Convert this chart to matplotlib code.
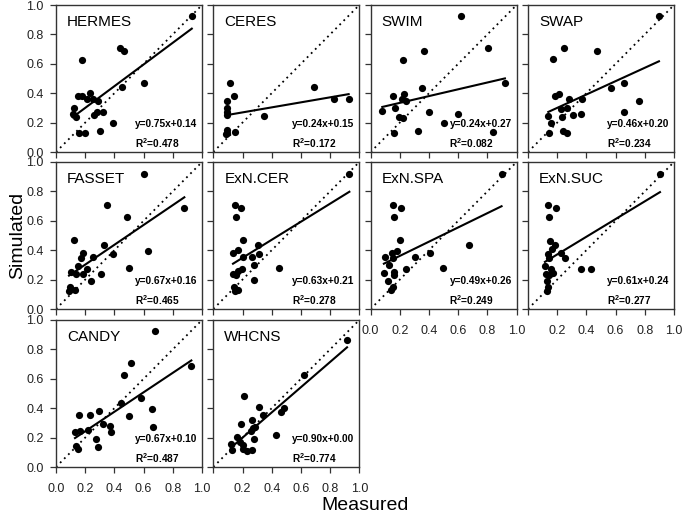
import numpy as np
import matplotlib
matplotlib.use('Agg')
import matplotlib.pyplot as plt

plt.rcParams['font.family'] = ['Liberation Sans', 'DejaVu Sans']
plt.rcParams['mathtext.fontset'] = 'custom'
plt.rcParams['mathtext.rm'] = 'Liberation Sans'
plt.rcParams['mathtext.bf'] = 'Liberation Sans:bold'

# models, in panel order
names = ['HERMES', 'CERES', 'SWIM', 'SWAP', 'FASSET',
         'ExN.CER', 'ExN.SPA', 'ExN.SUC', 'CANDY', 'WHCNS']
eq_text = ['y=0.75x+0.14', 'y=0.24x+0.15', 'y=0.24x+0.27', 'y=0.46x+0.20',
           'y=0.67x+0.16', 'y=0.63x+0.21', 'y=0.49x+0.26', 'y=0.61x+0.24',
           'y=0.67x+0.10', 'y=0.90x+0.00']
r2_text = ['0.478', '0.172', '0.082', '0.234', '0.465',
           '0.278', '0.249', '0.277', '0.487', '0.774']
tick_vals = [0.0, 0.2, 0.4, 0.6, 0.8, 1.0]

hermes_x = [0.93, 0.44, 0.465, 0.18, 0.60, 0.45, 0.153, 0.18, 0.233, 0.21, 0.25, 0.29,
            0.123, 0.114, 0.14, 0.26, 0.28, 0.32, 0.39, 0.16, 0.20, 0.30]
hermes_y = [0.925, 0.705, 0.69, 0.625, 0.467, 0.44, 0.38, 0.38, 0.40, 0.36, 0.36, 0.35,
            0.30, 0.26, 0.236, 0.25, 0.274, 0.274, 0.20, 0.13, 0.13, 0.14]

ceres_x = [0.112, 0.144, 0.094, 0.094, 0.094, 0.094, 0.687, 0.824, 0.927, 0.35,
           0.094, 0.094, 0.146, 0.09]
ceres_y = [0.467, 0.38, 0.35, 0.297, 0.274, 0.25, 0.44, 0.358, 0.358, 0.245,
           0.15, 0.127, 0.134, 0.12]

swim_x = [0.616, 0.806, 0.368, 0.219, 0.92, 0.354, 0.228, 0.15, 0.212, 0.242, 0.08,
          0.167, 0.40, 0.194, 0.224, 0.60, 0.505, 0.327, 0.162, 0.84]
swim_y = [0.925, 0.71, 0.69, 0.625, 0.47, 0.437, 0.392, 0.38, 0.358, 0.35, 0.279,
          0.297, 0.272, 0.24, 0.233, 0.256, 0.195, 0.145, 0.131, 0.134]

swap_x = [0.897, 0.249, 0.47, 0.169, 0.658, 0.568, 0.185, 0.214, 0.283, 0.368, 0.762,
          0.226, 0.265, 0.658, 0.139, 0.23, 0.306, 0.361, 0.155, 0.146, 0.242, 0.265]
swap_y = [0.925, 0.705, 0.69, 0.63, 0.47, 0.437, 0.383, 0.395, 0.358, 0.358, 0.35,
          0.29, 0.297, 0.274, 0.245, 0.24, 0.25, 0.256, 0.20, 0.131, 0.143, 0.131]

fasset_x = [0.605, 0.879, 0.347, 0.488, 0.123, 0.331, 0.632, 0.393, 0.183, 0.169, 0.256,
            0.153, 0.21, 0.502, 0.10, 0.137, 0.187, 0.306, 0.24, 0.096, 0.13, 0.089]
fasset_y = [0.92, 0.687, 0.705, 0.626, 0.467, 0.433, 0.392, 0.376, 0.38, 0.35, 0.354,
            0.29, 0.274, 0.279, 0.252, 0.24, 0.238, 0.238, 0.193, 0.148, 0.131, 0.124]

exncer_x = [0.932, 0.146, 0.192, 0.153, 0.203, 0.306, 0.167, 0.135, 0.31, 0.203, 0.265,
            0.276, 0.447, 0.197, 0.169, 0.135, 0.158, 0.276, 0.139, 0.167, 0.15]
exncer_y = [0.92, 0.705, 0.687, 0.626, 0.467, 0.433, 0.40, 0.38, 0.376, 0.354, 0.354,
            0.297, 0.279, 0.274, 0.256, 0.238, 0.233, 0.195, 0.148, 0.131, 0.124]

exnspa_x = [0.897, 0.151, 0.208, 0.162, 0.20, 0.673, 0.178, 0.144, 0.098, 0.155, 0.304,
            0.41, 0.125, 0.242, 0.498, 0.091, 0.16, 0.16, 0.121, 0.155, 0.137]
exnspa_y = [0.92, 0.705, 0.687, 0.626, 0.467, 0.437, 0.397, 0.38, 0.354, 0.347, 0.354,
            0.38, 0.297, 0.274, 0.279, 0.245, 0.252, 0.229, 0.193, 0.148, 0.131]

exnsuc_x = [0.904, 0.139, 0.19, 0.146, 0.151, 0.185, 0.162, 0.135, 0.226, 0.253, 0.144,
            0.116, 0.155, 0.363, 0.432, 0.123, 0.173, 0.144, 0.128, 0.139, 0.132]
exnsuc_y = [0.92, 0.705, 0.687, 0.626, 0.465, 0.437, 0.41, 0.376, 0.38, 0.35, 0.347,
            0.295, 0.274, 0.274, 0.274, 0.238, 0.245, 0.229, 0.193, 0.148, 0.124]

candy_x = [0.677, 0.927, 0.517, 0.467, 0.579, 0.442, 0.658, 0.499, 0.159, 0.232, 0.294,
           0.323, 0.369, 0.38, 0.665, 0.13, 0.164, 0.216, 0.271, 0.137, 0.153, 0.289]
candy_y = [0.925, 0.689, 0.705, 0.625, 0.466, 0.436, 0.393, 0.348, 0.357, 0.357, 0.38,
           0.295, 0.277, 0.239, 0.273, 0.239, 0.243, 0.255, 0.193, 0.143, 0.125, 0.136]

whcns_x = [0.916, 0.623, 0.212, 0.315, 0.338, 0.463, 0.486, 0.263, 0.19, 0.269, 0.288,
           0.258, 0.276, 0.429, 0.162, 0.185, 0.121, 0.128, 0.2, 0.228, 0.263, 0.2]
whcns_y = [0.864, 0.625, 0.484, 0.409, 0.357, 0.375, 0.398, 0.323, 0.295, 0.266, 0.273,
           0.243, 0.193, 0.216, 0.205, 0.17, 0.159, 0.114, 0.12, 0.107, 0.114, 0.148]

xs = [hermes_x, ceres_x, swim_x, swap_x, fasset_x, exncer_x, exnspa_x, exnsuc_x, candy_x, whcns_x]
ys = [hermes_y, ceres_y, swim_y, swap_y, fasset_y, exncer_y, exnspa_y, exnsuc_y, candy_y, whcns_y]

fig = plt.figure(figsize=(6.85, 5.14), dpi=100)
W, H = 685.0, 514.0
col_left = [56, 213.3, 370.6, 528]
row_bottom = [152, 309, 467]
edge = '#333333'
lab = ['%.1f' % v for v in tick_vals]

for k in range(len(names)):
    r, c = divmod(k, 4)
    ax = fig.add_axes([col_left[c] / W, 1 - row_bottom[r] / H, 146 / W, 147 / H])
    x = np.array(xs[k])
    y = np.array(ys[k])

    # 1:1 line and linear fit
    ax.plot([0, 1], [0, 1], color='black', lw=1.3, ls=(0, (1, 2.2)))
    p = np.polyfit(x, y, 1)
    xx = np.array([x.min(), x.max()])
    ax.plot(xx, np.polyval(p, xx), color='black', lw=1.5)
    ax.plot(x, y, 'o', color='black', ms=5.2, mew=0)

    ax.text(0.075, 0.885, names[k], transform=ax.transAxes, fontsize=11,
            ha='left', va='center')
    ax.text(0.54, 0.19, eq_text[k], transform=ax.transAxes, fontsize=7.3,
            fontweight='bold', ha='left', va='center')
    ax.text(0.54, 0.06, r'R$^{\mathbf{2}}$=' + r2_text[k], transform=ax.transAxes,
            fontsize=7.3, fontweight='bold', ha='left', va='center')

    ax.set_xlim(0, 1)
    ax.set_ylim(0, 1)
    ax.set_xticks(tick_vals)
    ax.set_yticks(tick_vals)
    ax.tick_params(direction='out', length=4, width=0.9, colors=edge,
                   labelsize=9, labelcolor='#222222')
    ax.tick_params(axis='x', pad=7.5)
    ax.tick_params(axis='y', pad=5)
    for s in ax.spines.values():
        s.set_color(edge)
        s.set_linewidth(1.0)
    if c == 0:
        ax.set_yticklabels(lab)
    else:
        ax.set_yticklabels([])
    if k in (6, 8):
        ax.set_xticklabels(lab)
    elif k in (7, 9):
        ax.set_xticklabels([''] + lab[1:])
    else:
        ax.set_xticklabels([])

fig.text(365 / W, 1 - 505 / H, 'Measured', fontsize=14, ha='center', va='center')
fig.text(18 / W, 1 - 235 / H, 'Simulated', fontsize=14, ha='center', va='center',
         rotation=90)

fig.savefig('out.png', dpi=100)
